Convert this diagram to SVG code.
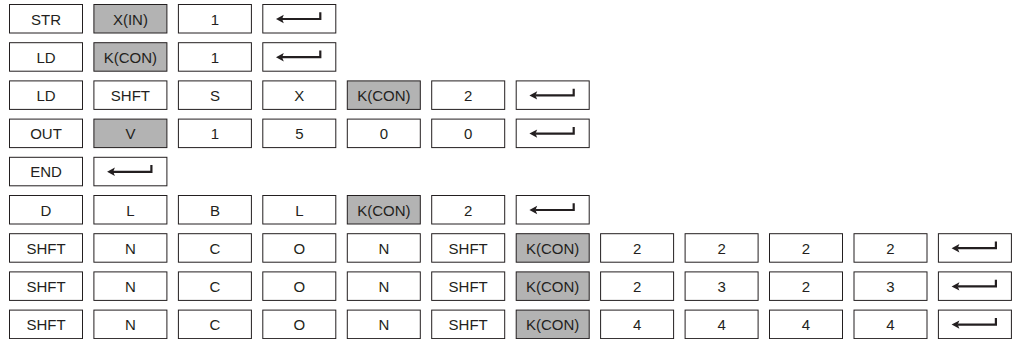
<svg xmlns="http://www.w3.org/2000/svg" xmlns:xlink="http://www.w3.org/1999/xlink" width="1013" height="339" viewBox="0 0 1013 339">
<style>
.key rect{fill:#ffffff;stroke:#231f20;stroke-width:1}
.key.g rect{fill:#b3b3b3}
.key text{font-family:"Liberation Sans",Arial,Helvetica,sans-serif;font-size:15px;fill:#231f20;text-anchor:middle}
.ent path{fill:none;stroke:#231f20;stroke-width:2.2}
.ent polygon{fill:#231f20}
</style>
<defs>
<g id="enter" class="ent">
<path d="M19,14.5 H57.5 V7.8"/>
<polygon points="13.2,14.5 21,10.3 19.3,14.5 21,18.7"/>
</g>
</defs>
<rect width="1013" height="339" fill="#ffffff"/>
<g id="row0">
<g id="r0c0" class="key" transform="translate(9.5,4.5)"><rect width="73" height="28.5"/><text x="36.5" y="20">STR</text></g>
<g id="r0c1" class="key g" transform="translate(93.9,4.5)"><rect width="73" height="28.5"/><text x="36.5" y="20">X(IN)</text></g>
<g id="r0c2" class="key" transform="translate(178.4,4.5)"><rect width="73" height="28.5"/><text x="36.5" y="20">1</text></g>
<g id="r0c3" class="key" transform="translate(262.8,4.5)"><rect width="73" height="28.5"/><use xlink:href="#enter"/></g>
</g>
<g id="row1">
<g id="r1c0" class="key" transform="translate(9.5,42.7)"><rect width="73" height="28.5"/><text x="36.5" y="20">LD</text></g>
<g id="r1c1" class="key g" transform="translate(93.9,42.7)"><rect width="73" height="28.5"/><text x="36.5" y="20">K(CON)</text></g>
<g id="r1c2" class="key" transform="translate(178.4,42.7)"><rect width="73" height="28.5"/><text x="36.5" y="20">1</text></g>
<g id="r1c3" class="key" transform="translate(262.8,42.7)"><rect width="73" height="28.5"/><use xlink:href="#enter"/></g>
</g>
<g id="row2">
<g id="r2c0" class="key" transform="translate(9.5,80.9)"><rect width="73" height="28.5"/><text x="36.5" y="20">LD</text></g>
<g id="r2c1" class="key" transform="translate(93.9,80.9)"><rect width="73" height="28.5"/><text x="36.5" y="20">SHFT</text></g>
<g id="r2c2" class="key" transform="translate(178.4,80.9)"><rect width="73" height="28.5"/><text x="36.5" y="20">S</text></g>
<g id="r2c3" class="key" transform="translate(262.8,80.9)"><rect width="73" height="28.5"/><text x="36.5" y="20">X</text></g>
<g id="r2c4" class="key g" transform="translate(347.3,80.9)"><rect width="73" height="28.5"/><text x="36.5" y="20">K(CON)</text></g>
<g id="r2c5" class="key" transform="translate(431.7,80.9)"><rect width="73" height="28.5"/><text x="36.5" y="20">2</text></g>
<g id="r2c6" class="key" transform="translate(516.2,80.9)"><rect width="73" height="28.5"/><use xlink:href="#enter"/></g>
</g>
<g id="row3">
<g id="r3c0" class="key" transform="translate(9.5,119.1)"><rect width="73" height="28.5"/><text x="36.5" y="20">OUT</text></g>
<g id="r3c1" class="key g" transform="translate(93.9,119.1)"><rect width="73" height="28.5"/><text x="36.5" y="20">V</text></g>
<g id="r3c2" class="key" transform="translate(178.4,119.1)"><rect width="73" height="28.5"/><text x="36.5" y="20">1</text></g>
<g id="r3c3" class="key" transform="translate(262.8,119.1)"><rect width="73" height="28.5"/><text x="36.5" y="20">5</text></g>
<g id="r3c4" class="key" transform="translate(347.3,119.1)"><rect width="73" height="28.5"/><text x="36.5" y="20">0</text></g>
<g id="r3c5" class="key" transform="translate(431.7,119.1)"><rect width="73" height="28.5"/><text x="36.5" y="20">0</text></g>
<g id="r3c6" class="key" transform="translate(516.2,119.1)"><rect width="73" height="28.5"/><use xlink:href="#enter"/></g>
</g>
<g id="row4">
<g id="r4c0" class="key" transform="translate(9.5,157.3)"><rect width="73" height="28.5"/><text x="36.5" y="20">END</text></g>
<g id="r4c1" class="key" transform="translate(93.9,157.3)"><rect width="73" height="28.5"/><use xlink:href="#enter"/></g>
</g>
<g id="row5">
<g id="r5c0" class="key" transform="translate(9.5,195.5)"><rect width="73" height="28.5"/><text x="36.5" y="20">D</text></g>
<g id="r5c1" class="key" transform="translate(93.9,195.5)"><rect width="73" height="28.5"/><text x="36.5" y="20">L</text></g>
<g id="r5c2" class="key" transform="translate(178.4,195.5)"><rect width="73" height="28.5"/><text x="36.5" y="20">B</text></g>
<g id="r5c3" class="key" transform="translate(262.8,195.5)"><rect width="73" height="28.5"/><text x="36.5" y="20">L</text></g>
<g id="r5c4" class="key g" transform="translate(347.3,195.5)"><rect width="73" height="28.5"/><text x="36.5" y="20">K(CON)</text></g>
<g id="r5c5" class="key" transform="translate(431.7,195.5)"><rect width="73" height="28.5"/><text x="36.5" y="20">2</text></g>
<g id="r5c6" class="key" transform="translate(516.2,195.5)"><rect width="73" height="28.5"/><use xlink:href="#enter"/></g>
</g>
<g id="row6">
<g id="r6c0" class="key" transform="translate(9.5,233.7)"><rect width="73" height="28.5"/><text x="36.5" y="20">SHFT</text></g>
<g id="r6c1" class="key" transform="translate(93.9,233.7)"><rect width="73" height="28.5"/><text x="36.5" y="20">N</text></g>
<g id="r6c2" class="key" transform="translate(178.4,233.7)"><rect width="73" height="28.5"/><text x="36.5" y="20">C</text></g>
<g id="r6c3" class="key" transform="translate(262.8,233.7)"><rect width="73" height="28.5"/><text x="36.5" y="20">O</text></g>
<g id="r6c4" class="key" transform="translate(347.3,233.7)"><rect width="73" height="28.5"/><text x="36.5" y="20">N</text></g>
<g id="r6c5" class="key" transform="translate(431.7,233.7)"><rect width="73" height="28.5"/><text x="36.5" y="20">SHFT</text></g>
<g id="r6c6" class="key g" transform="translate(516.2,233.7)"><rect width="73" height="28.5"/><text x="36.5" y="20">K(CON)</text></g>
<g id="r6c7" class="key" transform="translate(600.6,233.7)"><rect width="73" height="28.5"/><text x="36.5" y="20">2</text></g>
<g id="r6c8" class="key" transform="translate(685.1,233.7)"><rect width="73" height="28.5"/><text x="36.5" y="20">2</text></g>
<g id="r6c9" class="key" transform="translate(769.5,233.7)"><rect width="73" height="28.5"/><text x="36.5" y="20">2</text></g>
<g id="r6c10" class="key" transform="translate(854,233.7)"><rect width="73" height="28.5"/><text x="36.5" y="20">2</text></g>
<g id="r6c11" class="key" transform="translate(938.4,233.7)"><rect width="73" height="28.5"/><use xlink:href="#enter"/></g>
</g>
<g id="row7">
<g id="r7c0" class="key" transform="translate(9.5,271.9)"><rect width="73" height="28.5"/><text x="36.5" y="20">SHFT</text></g>
<g id="r7c1" class="key" transform="translate(93.9,271.9)"><rect width="73" height="28.5"/><text x="36.5" y="20">N</text></g>
<g id="r7c2" class="key" transform="translate(178.4,271.9)"><rect width="73" height="28.5"/><text x="36.5" y="20">C</text></g>
<g id="r7c3" class="key" transform="translate(262.8,271.9)"><rect width="73" height="28.5"/><text x="36.5" y="20">O</text></g>
<g id="r7c4" class="key" transform="translate(347.3,271.9)"><rect width="73" height="28.5"/><text x="36.5" y="20">N</text></g>
<g id="r7c5" class="key" transform="translate(431.7,271.9)"><rect width="73" height="28.5"/><text x="36.5" y="20">SHFT</text></g>
<g id="r7c6" class="key g" transform="translate(516.2,271.9)"><rect width="73" height="28.5"/><text x="36.5" y="20">K(CON)</text></g>
<g id="r7c7" class="key" transform="translate(600.6,271.9)"><rect width="73" height="28.5"/><text x="36.5" y="20">2</text></g>
<g id="r7c8" class="key" transform="translate(685.1,271.9)"><rect width="73" height="28.5"/><text x="36.5" y="20">3</text></g>
<g id="r7c9" class="key" transform="translate(769.5,271.9)"><rect width="73" height="28.5"/><text x="36.5" y="20">2</text></g>
<g id="r7c10" class="key" transform="translate(854,271.9)"><rect width="73" height="28.5"/><text x="36.5" y="20">3</text></g>
<g id="r7c11" class="key" transform="translate(938.4,271.9)"><rect width="73" height="28.5"/><use xlink:href="#enter"/></g>
</g>
<g id="row8">
<g id="r8c0" class="key" transform="translate(9.5,310.1)"><rect width="73" height="28.5"/><text x="36.5" y="20">SHFT</text></g>
<g id="r8c1" class="key" transform="translate(93.9,310.1)"><rect width="73" height="28.5"/><text x="36.5" y="20">N</text></g>
<g id="r8c2" class="key" transform="translate(178.4,310.1)"><rect width="73" height="28.5"/><text x="36.5" y="20">C</text></g>
<g id="r8c3" class="key" transform="translate(262.8,310.1)"><rect width="73" height="28.5"/><text x="36.5" y="20">O</text></g>
<g id="r8c4" class="key" transform="translate(347.3,310.1)"><rect width="73" height="28.5"/><text x="36.5" y="20">N</text></g>
<g id="r8c5" class="key" transform="translate(431.7,310.1)"><rect width="73" height="28.5"/><text x="36.5" y="20">SHFT</text></g>
<g id="r8c6" class="key g" transform="translate(516.2,310.1)"><rect width="73" height="28.5"/><text x="36.5" y="20">K(CON)</text></g>
<g id="r8c7" class="key" transform="translate(600.6,310.1)"><rect width="73" height="28.5"/><text x="36.5" y="20">4</text></g>
<g id="r8c8" class="key" transform="translate(685.1,310.1)"><rect width="73" height="28.5"/><text x="36.5" y="20">4</text></g>
<g id="r8c9" class="key" transform="translate(769.5,310.1)"><rect width="73" height="28.5"/><text x="36.5" y="20">4</text></g>
<g id="r8c10" class="key" transform="translate(854,310.1)"><rect width="73" height="28.5"/><text x="36.5" y="20">4</text></g>
<g id="r8c11" class="key" transform="translate(938.4,310.1)"><rect width="73" height="28.5"/><use xlink:href="#enter"/></g>
</g>
<g id="connectors"/>
</svg>
